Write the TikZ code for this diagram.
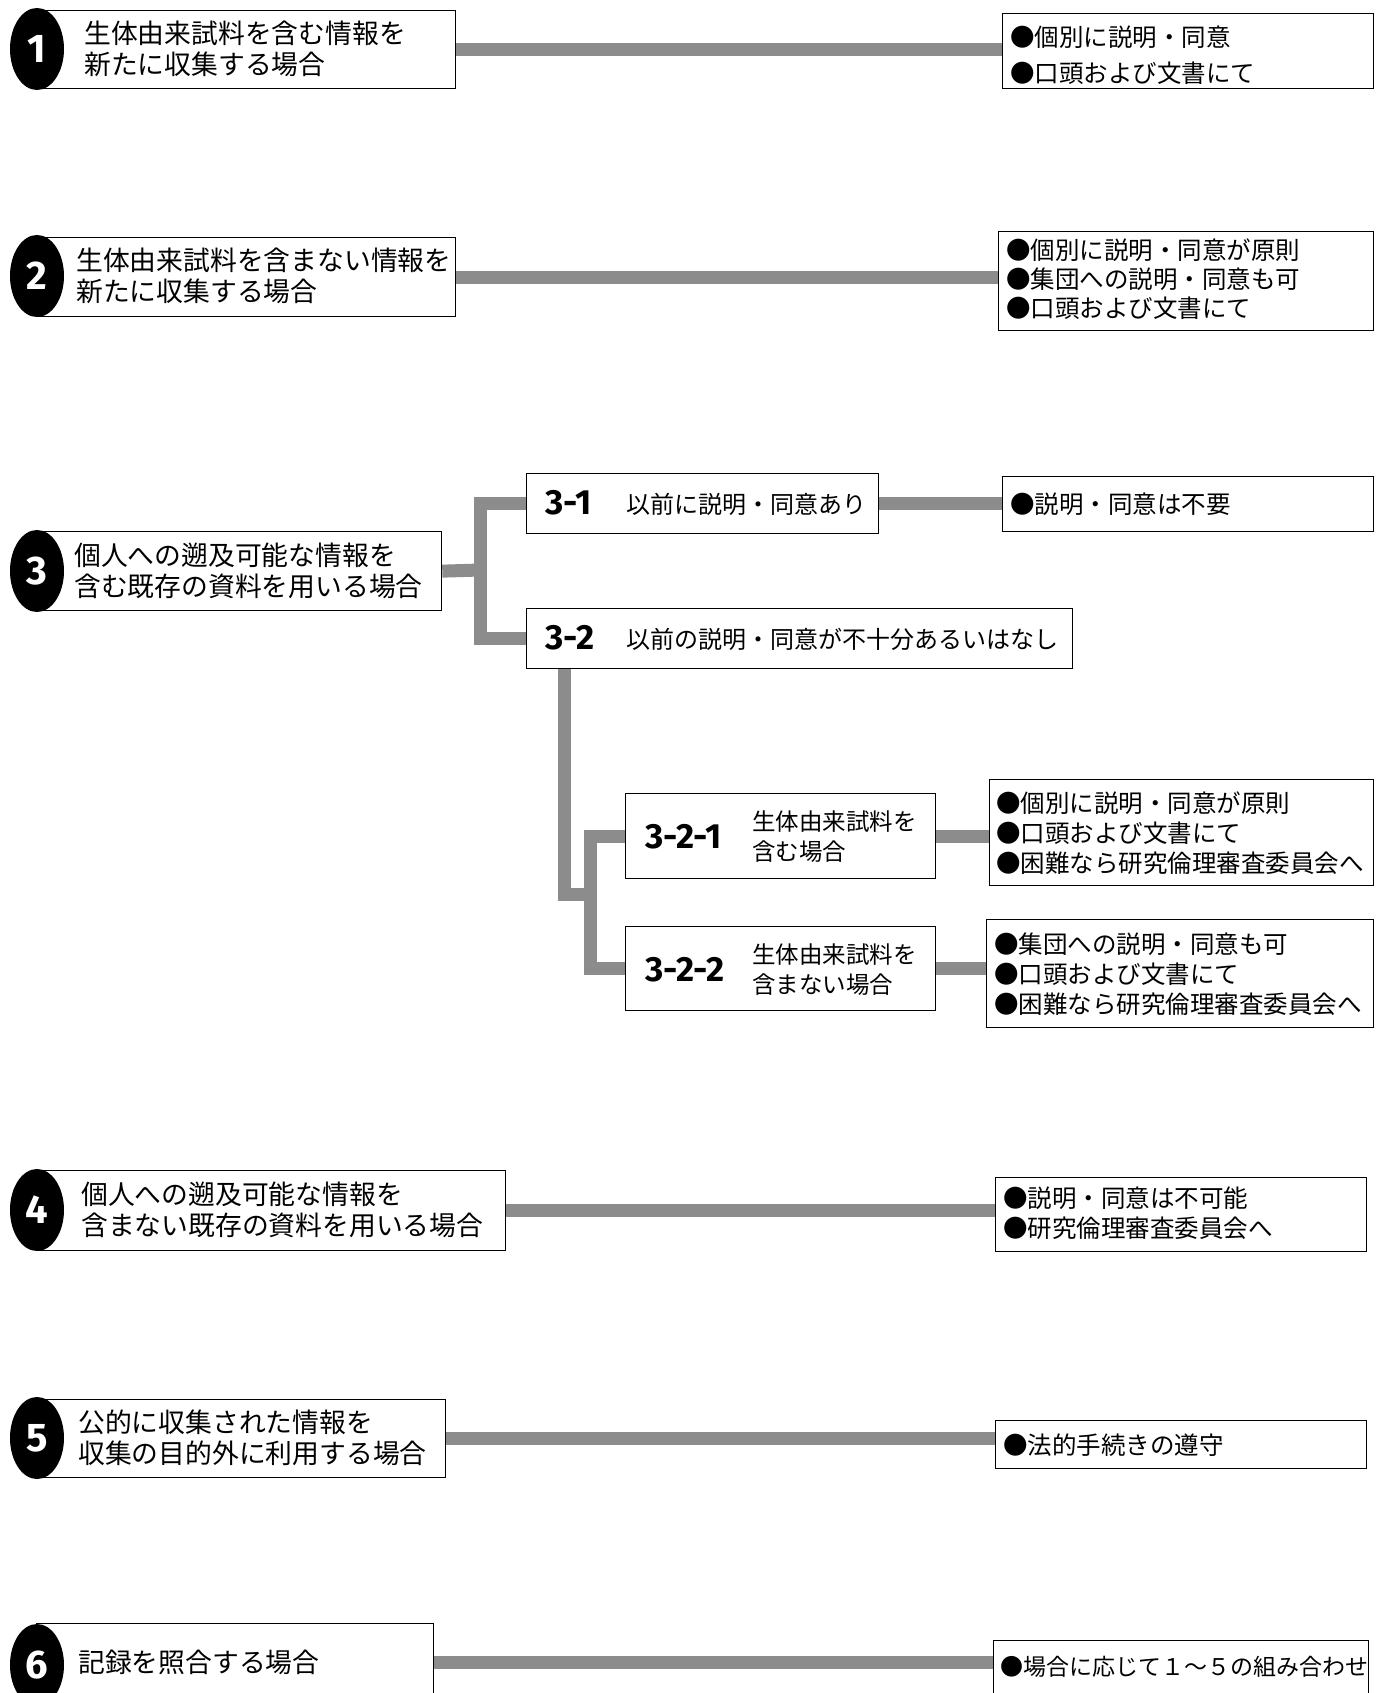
\documentclass[tikz,border=0pt]{standalone}
\usepackage{fontspec}
\setmainfont{Noto Sans CJK JP}
\newfontfamily\numfont{Fira Sans}
\usetikzlibrary{shapes.geometric}
\begin{document}
\begin{tikzpicture}[x=1pt,y=-1pt,
  box/.style={draw=black, line width=1.3pt, fill=white, rectangle, inner sep=0pt, anchor=north west},
  badge/.style={ellipse, fill=black, minimum width=54pt, minimum height=82pt, inner sep=0pt, text=white, font=\numfont\bfseries\fontsize{40}{40}\selectfont},
  lbl/.style={anchor=west, align=left, inner sep=0pt, font=\fontsize{26.8}{31}\selectfont},
  rlbl/.style={anchor=west, align=left, inner sep=0pt, font=\fontsize{24.5}{30}\selectfont},
  slbl/.style={anchor=west, align=left, inner sep=0pt, font=\fontsize{24}{30}\selectfont},
  num/.style={anchor=west, inner sep=0pt, font=\numfont\bfseries\fontsize{35}{35}\selectfont},
  conn/.style={draw=black!45, line width=13pt}]
\useasboundingbox (0,0) rectangle (1385,1693);
\fill[white] (0,0) rectangle (1385,1693);

% ---------- 1 ----------
\node[box, minimum width=419pt, minimum height=78pt] (b1) at (36,10) {};
\node[badge] (c1) at (37,49) {1};
\node[lbl] (t1) at (84,49) {生体由来試料を含む情報を\\新たに収集する場合};
\node[box, minimum width=371pt, minimum height=75pt] (r1) at (1002,13) {};
\node[rlbl, font=\fontsize{24.5}{36}\selectfont] (s1) at (1010,55) {●個別に説明・同意\\●口頭および文書にて};
\draw[conn] (b1.east) -- (b1.east -| r1.west);

% ---------- 2 ----------
\node[box, minimum width=419pt, minimum height=79pt] (b2) at (36,237) {};
\node[badge] (c2) at (37,276) {2};
\node[lbl] (t2) at (76,276) {生体由来試料を含まない情報を\\新たに収集する場合};
\node[box, minimum width=375pt, minimum height=99pt] (r2) at (998,231) {};
\node[rlbl, font=\fontsize{24.5}{29}\selectfont] (s2) at (1006,279) {●個別に説明・同意が原則\\●集団への説明・同意も可\\●口頭および文書にて};
\draw[conn] (b2.east) -- (b2.east -| r2.west);

% ---------- 3 ----------
\node[box, minimum width=405pt, minimum height=79pt] (b3) at (36,531) {};
\node[badge] (c3) at (37,571) {3};
\node[lbl] (t3) at (74,571) {個人への遡及可能な情報を\\含む既存の資料を用いる場合};

\node[box, minimum width=352pt, minimum height=60pt] (b31) at (526,473) {};
\node[num] (n31) at (545,503) {3-1};
\node[slbl] (t31) at (626,504) {以前に説明・同意あり};
\node[box, minimum width=371pt, minimum height=55pt] (r31) at (1002,476) {};
\node[rlbl] (s31) at (1010,504) {●説明・同意は不要};

\node[box, minimum width=546pt, minimum height=60pt] (b32) at (526,608) {};
\node[num] (n32) at (545,638) {3-2};
\node[slbl] (t32) at (626,639) {以前の説明・同意が不十分あるいはなし};

\coordinate (j3) at (480,570);
\draw[conn] (b3.east) -- (j3);
\draw[conn] (b31.west) -| (j3) |- (b32.west);
\draw[conn] (b31.east) -- (b31.east -| r31.west);

\node[box, minimum width=310pt, minimum height=85pt] (b321) at (625,793) {};
\node[num] (n321) at (645,837) {3-2-1};
\node[slbl, font=\fontsize{23.5}{30}\selectfont] (t321) at (752,837) {生体由来試料を\\含む場合};
\node[box, minimum width=310pt, minimum height=84pt] (b322) at (625,926) {};
\node[num] (n322) at (645,970) {3-2-2};
\node[slbl, font=\fontsize{23.5}{30}\selectfont] (t322) at (752,970) {生体由来試料を\\含まない場合};

\coordinate (k1) at (564,894);
\coordinate (k2) at (590,894);
\draw[conn] (k1 |- b32.south) -- (k1) -- (k2);
\draw[conn] (b321.west) -| (k2) |- (b322.west);

\node[box, minimum width=384pt, minimum height=106pt] (r321) at (989,779) {};
\node[rlbl] (s321) at (996,833) {●個別に説明・同意が原則\\●口頭および文書にて\\●困難なら研究倫理審査委員会へ};
\node[box, minimum width=387pt, minimum height=108pt] (r322) at (986,919) {};
\node[rlbl] (s322) at (994,974) {●集団への説明・同意も可\\●口頭および文書にて\\●困難なら研究倫理審査委員会へ};
\draw[conn] (b321.east) -- (b321.east -| r321.west);
\draw[conn] (b322.east) -- (b322.east -| r322.west);

% ---------- 4 ----------
\node[box, minimum width=469pt, minimum height=80pt] (b4) at (36,1170) {};
\node[badge] (c4) at (37,1210) {4};
\node[lbl] (t4) at (81,1210) {個人への遡及可能な情報を\\含まない既存の資料を用いる場合};
\node[box, minimum width=371pt, minimum height=74pt] (r4) at (995,1177) {};
\node[rlbl] (s4) at (1003,1213) {●説明・同意は不可能\\●研究倫理審査委員会へ};
\draw[conn] (b4.east) -- (b4.east -| r4.west);

% ---------- 5 ----------
\node[box, minimum width=409pt, minimum height=78pt] (b5) at (36,1399) {};
\node[badge] (c5) at (37,1438) {5};
\node[lbl] (t5) at (78,1438) {公的に収集された情報を\\収集の目的外に利用する場合};
\node[box, minimum width=371pt, minimum height=48pt] (r5) at (995,1420) {};
\node[rlbl] (s5) at (1003,1445) {●法的手続きの遵守};
\draw[conn] (b5.east) -- (b5.east -| r5.west);

% ---------- 6 ----------
\node[box, minimum width=397pt, minimum height=84pt] (b6) at (36,1623) {};
\node[badge] (c6) at (37,1665) {6};
\node[lbl] (t6) at (78,1662) {記録を照合する場合};
\node[box, minimum width=375pt, minimum height=70pt] (r6) at (993,1640) {};
\node[slbl, font=\fontsize{23}{30}\selectfont] (s6) at (1000,1667) {●場合に応じて１～５の組み合わせ};
\draw[conn] (b6.east |- t6.west) -- (t6.west -| r6.west);
\end{tikzpicture}
\end{document}
